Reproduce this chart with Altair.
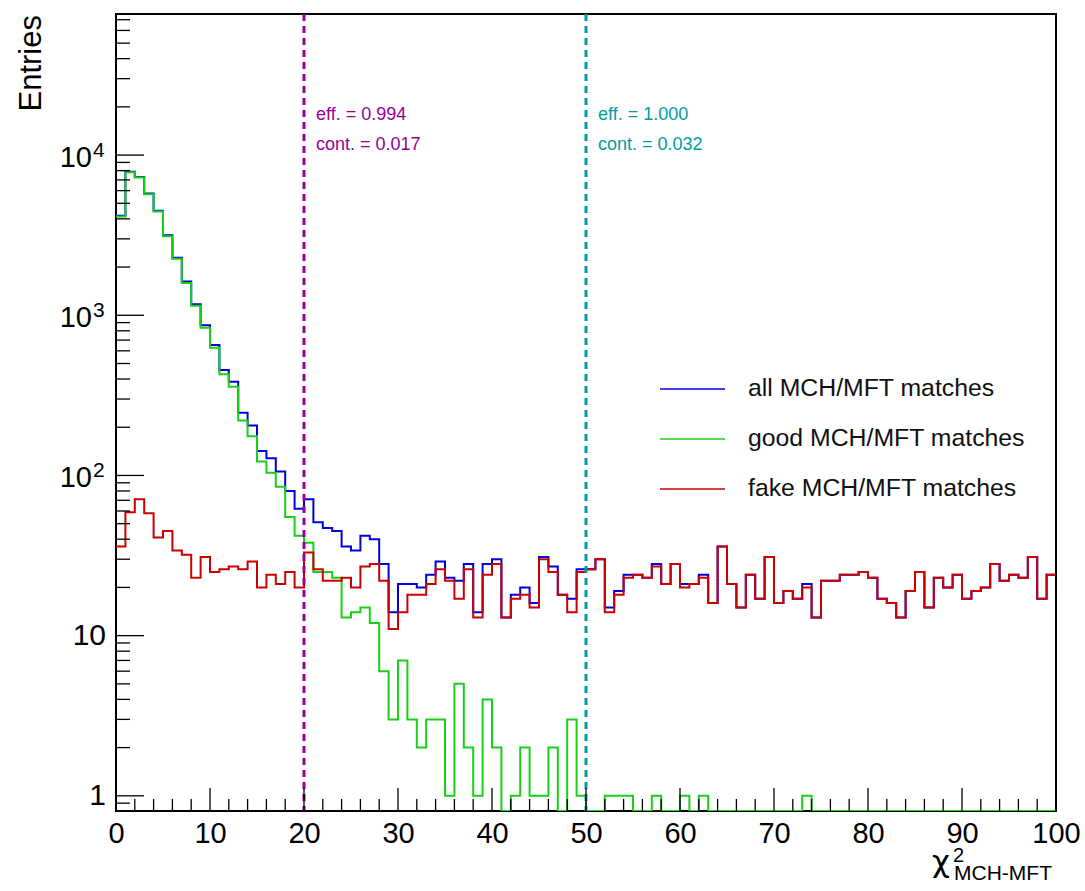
import altair as alt
import pandas as pd
import math

# ---------------- data ----------------
bin_edges_lo = list(range(100))  # bins of width 1 from 0 to 100

all_matches = [
    4180, 7870, 7310, 5760, 4490, 3160, 2290, 1625, 1170, 866,
    653, 455, 385, 246, 205, 142, 128, 106, 80, 62,
    71, 51, 47, 45, 36, 34, 42, 40, 28, 14,
    21, 21, 20, 24, 29, 23, 22, 28, 14, 28,
    30, 13, 18, 20, 16, 31, 27, 18, 17, 26,
    26, 30, 15, 19, 24, 24, 23, 28, 21, 28,
    21, 21, 24, 16, 36, 21, 15, 24, 17, 31,
    16, 19, 17, 21, 13, 22, 22, 24, 24, 25,
    23, 17, 16, 13, 19, 25, 15, 23, 20, 24,
    17, 19, 20, 28, 22, 24, 23, 31, 17, 24,
]

good_matches = [
    4140, 7810, 7240, 5700, 4450, 3115, 2255, 1593, 1147, 835,
    628, 429, 358, 220, 176, 122, 104, 85, 55, 42,
    38, 25, 25, 23, 13, 14, 15, 12, 6, 3,
    7, 3, 2, 3, 3, 1, 5, 2, 1, 4,
    2, 0, 1, 2, 1, 1, 2, 0, 3, 1,
    0, 0, 1, 1, 1, 0, 0, 1, 0, 0,
    1, 0, 1, 0, 0, 0, 0, 0, 0, 0,
    0, 0, 0, 1, 0, 0, 0, 0, 0, 0,
    0, 0, 0, 0, 0, 0, 0, 0, 0, 0,
    0, 0, 0, 0, 0, 0, 0, 0, 0, 0,
]

fake_matches = [
    36, 59, 71, 58, 41, 45, 34, 32, 23, 31,
    25, 26, 27, 26, 29, 20, 24, 21, 25, 20,
    33, 26, 22, 22, 23, 20, 27, 28, 22, 11,
    14, 18, 18, 21, 26, 22, 17, 26, 13, 24,
    28, 13, 17, 18, 15, 30, 25, 18, 14, 25,
    26, 30, 14, 18, 23, 24, 23, 27, 21, 28,
    20, 21, 23, 16, 36, 21, 15, 24, 17, 31,
    16, 19, 17, 20, 13, 22, 22, 24, 24, 25,
    23, 17, 16, 13, 19, 25, 15, 23, 20, 24,
    17, 19, 20, 28, 22, 24, 23, 31, 17, 24,
]

series_names = ["all MCH/MFT matches", "good MCH/MFT matches", "fake MCH/MFT matches"]
series_values = [all_matches, good_matches, fake_matches]

cut_values = [20, 50]
cut_eff = ["eff. = 0.994", "eff. = 1.000"]
cut_cont = ["cont. = 0.017", "cont. = 0.032"]

x_tick_labels = list(range(0, 101, 10))
y_tick_labels = [1, 10, 100, 1000, 10000]

# ---------------- styling ----------------
FONT = "Liberation Sans"
W, H = 940, 797
Y_MIN, Y_MAX = 0.804, 76000
series_colors = ["#0000d8", "#18d018", "#cc0000"]
cut_colors = ["#990099", "#009c9c"]

xs = alt.Scale(domain=[0, 100], nice=False, zero=False)
ys = alt.Scale(type="log", domain=[Y_MIN, Y_MAX], nice=False)

xaxis = alt.Axis(values=x_tick_labels, ticks=False, domain=False, grid=False,
                 labelFontSize=29, labelFont=FONT, labelColor="black",
                 labelPadding=8, labelFlush=False, labelOverlap=False, title=None)

layers = []

# histograms (drawn in order: all, good, fake)
for name, vals, col in zip(series_names, series_values, series_colors):
    df = pd.DataFrame({"x": bin_edges_lo + [100], "v": vals + [vals[-1]]})
    layers.append(
        alt.Chart(df).transform_calculate(vp=f"max(datum.v, {Y_MIN})")
        .mark_line(interpolate="step-after", strokeWidth=2, color=col, clip=True)
        .encode(x=alt.X("x:Q", scale=xs, axis=xaxis),
                y=alt.Y("vp:Q", scale=ys, axis=None))
    )

# cut lines and annotations
for cut, eff, cont, col in zip(cut_values, cut_eff, cut_cont, cut_colors):
    cdf = pd.DataFrame({"cut": [cut]})
    layers.append(
        alt.Chart(cdf).mark_rule(color=col, strokeWidth=3, strokeDash=[7, 5])
        .encode(x=alt.X("cut:Q", scale=xs, axis=xaxis))
    )
    for txt, yy in [(eff, 101), (cont, 131)]:
        layers.append(
            alt.Chart(cdf).mark_text(text=txt, color=col, fontSize=18, font=FONT,
                                     align="left", baseline="middle", dx=12)
            .encode(x=alt.X("cut:Q", scale=xs, axis=xaxis), y=alt.value(yy))
        )

# inside tick marks (x)
xt = pd.DataFrame({"t": list(range(0, 101, 2))})
layers.append(
    alt.Chart(xt).transform_filter("datum.t % 10 != 0")
    .mark_rule(color="black", strokeWidth=1.3)
    .encode(x=alt.X("t:Q", scale=xs, axis=xaxis), y=alt.value(H), y2=alt.value(H - 12))
)
layers.append(
    alt.Chart(xt).transform_filter("datum.t % 10 == 0")
    .mark_rule(color="black", strokeWidth=1.3)
    .encode(x=alt.X("t:Q", scale=xs, axis=xaxis), y=alt.value(H), y2=alt.value(H - 23))
)

# inside tick marks (y, log)
minor_y = [m * 10.0 ** k for k in range(-1, 5) for m in range(2, 10)]
minor_y = [v for v in minor_y if Y_MIN <= v <= Y_MAX]
layers.append(
    alt.Chart(pd.DataFrame({"t": minor_y})).mark_rule(color="black", strokeWidth=1.3)
    .encode(y=alt.Y("t:Q", scale=ys, axis=None), x=alt.value(0), x2=alt.value(14))
)
layers.append(
    alt.Chart(pd.DataFrame({"t": y_tick_labels})).mark_rule(color="black", strokeWidth=1.3)
    .encode(y=alt.Y("t:Q", scale=ys, axis=None), x=alt.value(0), x2=alt.value(28))
)

# y tick labels (ROOT style: 1, 10, 10^2, 10^3, 10^4)
plain = pd.DataFrame({"t": [v for v in y_tick_labels if v <= 10],
                      "lab": [str(v) for v in y_tick_labels if v <= 10]})
powers = pd.DataFrame({"t": [v for v in y_tick_labels if v > 10],
                       "e": [str(int(round(math.log10(v)))) for v in y_tick_labels if v > 10]})
layers.append(
    alt.Chart(plain).mark_text(fontSize=30, font=FONT, color="black", align="right", baseline="middle")
    .encode(y=alt.Y("t:Q", scale=ys, axis=None), x=alt.value(-10), text="lab:N")
)
layers.append(
    alt.Chart(powers).mark_text(text="10", fontSize=29, font=FONT, color="black",
                                align="right", baseline="middle", dy=3)
    .encode(y=alt.Y("t:Q", scale=ys, axis=None), x=alt.value(-24))
)
layers.append(
    alt.Chart(powers).mark_text(fontSize=21, font=FONT, color="black",
                                align="left", baseline="alphabetic", dy=2)
    .encode(y=alt.Y("t:Q", scale=ys, axis=None), x=alt.value(-23), text="e:N")
)

# legend
for i, (name, col) in enumerate(zip(series_names, series_colors)):
    yy = 375 + 50 * i
    layers.append(
        alt.Chart(pd.DataFrame({"a": [0]})).mark_rule(color=col, strokeWidth=1.5)
        .encode(x=alt.value(544), x2=alt.value(609), y=alt.value(yy))
    )
    layers.append(
        alt.Chart(pd.DataFrame({"a": [0]})).mark_text(text=name, fontSize=24.8, font=FONT,
                                                        color="#111111", align="left", baseline="middle")
        .encode(x=alt.value(632), y=alt.value(yy))
    )

# axis titles
one = pd.DataFrame({"a": [0]})
layers.append(
    alt.Chart(one).mark_text(text="Entries", fontSize=31, font=FONT, color="black",
                             angle=270, align="right", baseline="middle")
    .encode(x=alt.value(-84), y=alt.value(1))
)
layers.append(
    alt.Chart(one).mark_text(text="\u03c7", fontSize=31, font="DejaVu Sans", color="black",
                             align="left", baseline="alphabetic")
    .encode(x=alt.value(816), y=alt.value(858))
)
layers.append(
    alt.Chart(one).mark_text(text="2", fontSize=20, font=FONT, color="black",
                             align="left", baseline="alphabetic")
    .encode(x=alt.value(837), y=alt.value(848))
)
layers.append(
    alt.Chart(one).mark_text(text="MCH-MFT", fontSize=21, font=FONT, color="black",
                             align="left", baseline="alphabetic")
    .encode(x=alt.value(838), y=alt.value(866))
)

chart = (
    alt.layer(*layers)
    .properties(width=W, height=H,
                autosize=alt.AutoSizeParams(type="none"),
                padding={"left": 116, "top": 14, "right": 29, "bottom": 80},
                background="white")
    .configure_view(stroke="black", strokeWidth=2)
)

chart.save("out.html", embed_options={"renderer": "svg", "actions": False})
